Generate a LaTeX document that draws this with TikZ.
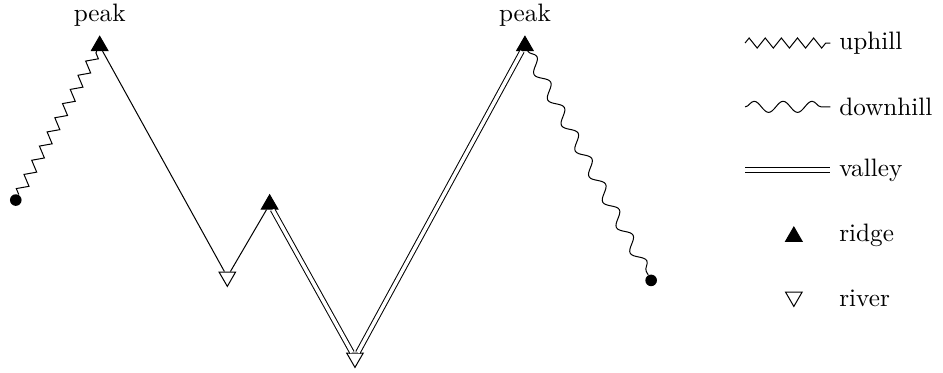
\documentclass[tikz,border=0pt]{standalone}
\usepackage{amssymb}
\usepackage{amsmath}
\usepackage{tikz}
\usetikzlibrary{calc}
\usetikzlibrary{shapes.geometric}
\usetikzlibrary{decorations.pathmorphing}
\colorlet{colbg}{white}
\colorlet{colfg}{black}
\tikzstyle{ridgept}=[regular polygon, regular polygon sides=3, draw=colfg, fill=colfg, minimum size=7.6pt, inner sep=0pt]
\tikzstyle{riverpt}=[regular polygon, regular polygon sides=3, shape border rotate=180, draw=colfg, fill=colbg, minimum size=7.6pt, inner sep=0pt]
\tikzstyle{endpt}=[circle, fill=colfg, minimum size=4.6pt, inner sep=0pt]
\tikzstyle{uphill}=[decorate, decoration={zigzag, amplitude=2pt, segment length=6.4pt}]
\tikzstyle{downhill}=[decorate, decoration={snake, amplitude=2.2pt, segment length=11.5pt}]
\tikzstyle{valley}=[double=colbg, double distance=1.4pt]
\tikzstyle{legendsty}=[anchor=west]
\begin{document}
\begin{tikzpicture}[]
      \useasboundingbox (0,0) rectangle (13.15,-5.2);
      % Profile points
      \node[endpt] (s) at (0.22,-2.79) {};
      \node[ridgept,label={above:peak}] (p1) at (1.39,-0.64) {};
      \node[riverpt] (r1) at (3.17,-3.86) {};
      \node[ridgept] (g1) at (3.76,-2.85) {};
      \node[riverpt] (r2) at (4.95,-4.99) {};
      \node[ridgept,label={above:peak}] (p2) at (7.32,-0.64) {};
      \node[endpt] (e) at (9.08,-3.91) {};

      \draw[uphill] (s) -- (p1);
      \draw (p1) -- (r1) (r1) -- (g1);
      \draw[valley] (g1) -- (r2) (r2) -- (p2);
      \draw[downhill] (p2) -- (e);

      % Legend (to the right of the profile)
      \coordinate (lu1) at (10.39,-0.60);
      \coordinate (lu2) at (11.58,-0.60);
      \draw[uphill] (lu1) -- (lu2);
      \node[legendsty] (tu) at (lu2) {uphill};

      \coordinate (ld1) at (10.39,-1.49);
      \coordinate (ld2) at (11.58,-1.49);
      \draw[downhill] (ld1) -- (ld2);
      \node[legendsty] (td) at (ld2) {downhill};

      \coordinate (lv1) at (10.39,-2.37);
      \coordinate (lv2) at (11.58,-2.37);
      \draw[valley] (lv1) -- (lv2);
      \node[legendsty] (tv) at (lv2) {valley};

      \node[ridgept] (lg) at (11.07,-3.30) {};
      \node[legendsty] (tg) at (11.58,-3.28) {ridge};

      \node[riverpt] (lr) at (11.07,-4.14) {};
      \node[legendsty] (tr) at (11.58,-4.16) {river};
    \end{tikzpicture}
\end{document}
